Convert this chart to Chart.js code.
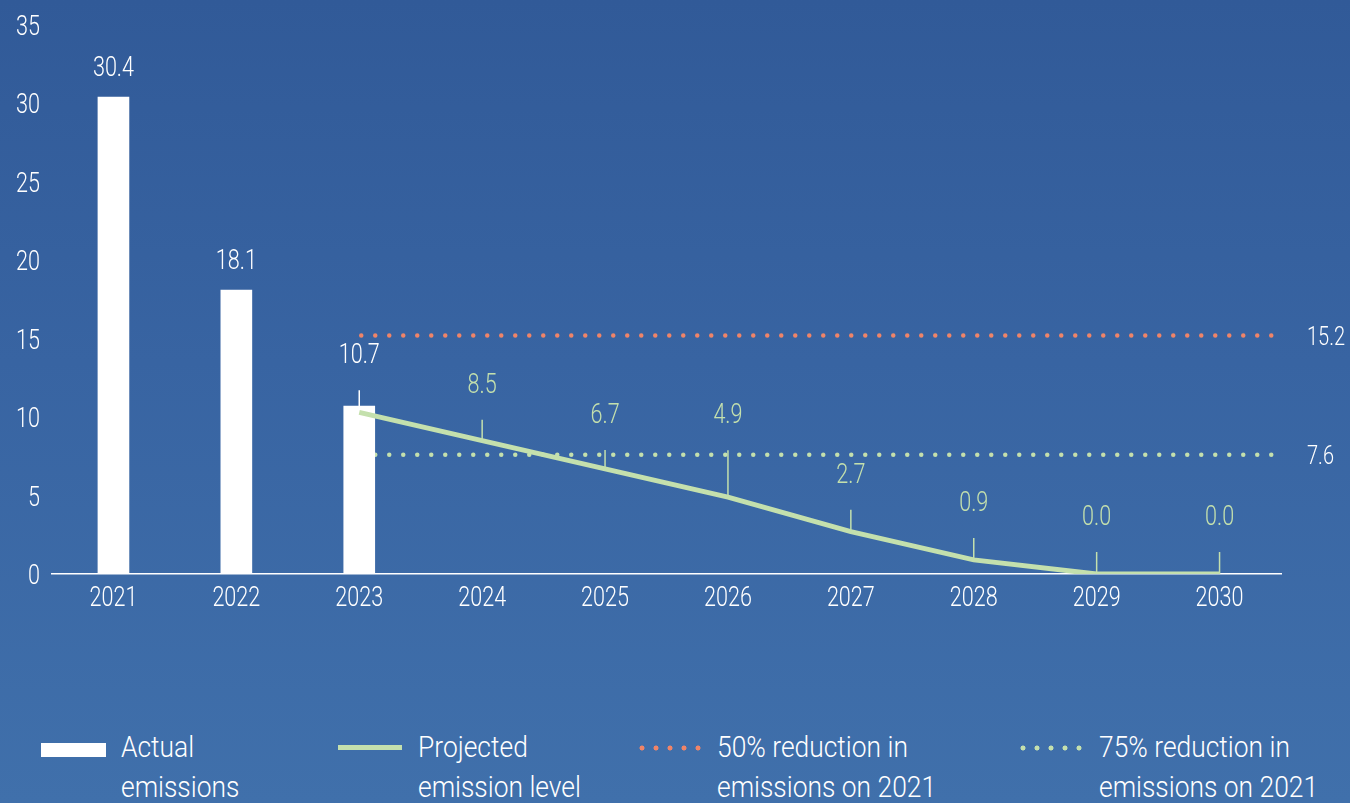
<!DOCTYPE html>
<html>
<head>
<meta charset="utf-8">
<script src="https://cdn.jsdelivr.net/npm/chart.js@4"></script>
<style>
  html, body { margin: 0; padding: 0; }
  body {
    width: 1350px; height: 803px; overflow: hidden; position: relative;
    background: linear-gradient(180deg, #315a98 0%, #3864a2 45%, #4070ab 100%);
    font-family: Roboto, "Liberation Sans", sans-serif;
    font-weight: 300;
    color: #fff;
  }
  #wrap { position: absolute; left: 0; top: 0; width: 1350px; height: 624px; }
  .leg {
    position: absolute; top: 727px; font-size: 30px; line-height: 40px; color: #fff;
    transform: scaleX(0.88); transform-origin: 0 0; white-space: nowrap;
  }
  .sw { position: absolute; }
  .dots { height: 6px; background-image: radial-gradient(circle, var(--c) 2.2px, transparent 2.8px); background-size: 14px 6px; background-repeat: repeat-x; }
</style>
</head>
<body>
<div id="wrap"><canvas id="chart"></canvas></div>

<div class="sw" style="left:41px; top:743px; width:65px; height:14px; background:#fff;"></div>
<div class="leg" style="left:121px;">Actual<br>emissions</div>

<div class="sw" style="left:338px; top:745px; width:64px; height:5px; background:#c4e0ad;"></div>
<div class="leg" style="left:418px;">Projected<br>emission level</div>

<div class="sw dots" style="left:635px; top:745px; width:70px; --c:#ef8468;"></div>
<div class="leg" style="left:717px;">50% reduction in<br>emissions on 2021</div>

<div class="sw dots" style="left:1016px; top:745px; width:70px; --c:#c4e0ad;"></div>
<div class="leg" style="left:1099px;">75% reduction in<br>emissions on 2021</div>

<script>
// Data
const years = ['2021', '2022', '2023', '2024', '2025', '2026', '2027', '2028', '2029', '2030'];
const actual = [30.4, 18.1, 10.7, null, null, null, null, null, null, null];
const projected = [null, null, 10.3, 8.5, 6.7, 4.9, 2.7, 0.9, 0.0, 0.0];
const target50 = 15.2;
const target75 = 7.6;
const yTicks = [0, 5, 10, 15, 20, 25, 30, 35];

const FONT = 'Roboto, "Liberation Sans", sans-serif';
const GREEN = '#c4e0ad';
const ORANGE = '#ef8468';

// leader tick length above each value (0 = no tick)
const leaderLen = [0, 0, 16, 21, 19, 47, 22, 22, 22, 22];

// narrow text helper (the original uses a condensed face)
function narrowText(ctx, text, x, y, align, size, color) {
    ctx.save();
    ctx.translate(x, y);
    ctx.scale(0.8, 1);
    ctx.font = '300 ' + size + 'px ' + FONT;
    ctx.fillStyle = color;
    ctx.textAlign = align;
    ctx.textBaseline = 'alphabetic';
    ctx.fillText(text, 0, 0);
    ctx.restore();
}

// axis labels drawn from the chart's own scales
const axisText = {
    id: 'axisText',
    afterDraw(chart) {
        const ctx = chart.ctx;
        const xs = chart.scales.x;
        const ys = chart.scales.y;
        yTicks.forEach(v => {
            narrowText(ctx, String(v), 40, ys.getPixelForValue(v) + 10, 'right', 27, '#ffffff');
        });
        years.forEach((lab, i) => {
            narrowText(ctx, lab, xs.getPixelForValue(i), chart.chartArea.bottom + 32, 'center', 27, '#ffffff');
        });
    }
};

// value labels with leader ticks
const valueLabels = {
    id: 'valueLabels',
    afterDatasetsDraw(chart) {
        const ctx = chart.ctx;
        const barMeta = chart.getDatasetMeta(1);
        const lineMeta = chart.getDatasetMeta(0);
        years.forEach((y, i) => {
            let el, val, color;
            if (actual[i] !== null) {
                el = barMeta.data[i]; val = actual[i]; color = '#ffffff';
            } else {
                el = lineMeta.data[i]; val = projected[i]; color = GREEN;
            }
            const x = el.x;
            const top = el.y;
            const len = leaderLen[i];
            if (len > 0) {
                ctx.save();
                ctx.strokeStyle = color;
                ctx.lineWidth = 1.5;
                ctx.beginPath();
                ctx.moveTo(x, top);
                ctx.lineTo(x, top - len);
                ctx.stroke();
                ctx.restore();
            }
            const gap = len > 0 ? len + 27 : 21;
            narrowText(ctx, val.toFixed(1), x, top - gap, 'center', 27, color);
        });
    }
};

// dotted reduction targets
const targetLines = {
    id: 'targetLines',
    beforeDatasetsDraw(chart) {
        const ctx = chart.ctx;
        const xs = chart.scales.x;
        const ys = chart.scales.y;
        const x0 = xs.getPixelForValue(2) + 2;
        const x1 = chart.chartArea.right;
        [[target50, ORANGE], [target75, GREEN]].forEach(([v, c]) => {
            const py = ys.getPixelForValue(v);
            ctx.save();
            ctx.lineCap = 'round';
            ctx.lineWidth = 4.5;
            ctx.setLineDash([0, 14]);
            ctx.strokeStyle = c;
            ctx.beginPath();
            ctx.moveTo(x0, py);
            ctx.lineTo(x1, py);
            ctx.stroke();
            ctx.restore();
            narrowText(ctx, v.toFixed(1), x1 + 26, py + 9, 'left', 25, '#ffffff');
        });
    }
};

new Chart(document.getElementById('chart'), {
    data: {
        labels: years,
        datasets: [{
            type: 'line',
            label: 'Projected emission level',
            data: projected,
            borderColor: GREEN,
            borderWidth: 5,
            pointRadius: 0,
            tension: 0,
            order: 0
        }, {
            type: 'bar',
            label: 'Actual emissions',
            data: actual,
            backgroundColor: '#ffffff',
            barThickness: 31,
            grouped: false,
            order: 1
        }]
    },
    options: {
        responsive: true,
        maintainAspectRatio: false,
        animation: false,
        layout: { padding: { top: 25, right: 69, left: 0, bottom: 0 } },
        plugins: {
            legend: { display: false },
            tooltip: { enabled: false }
        },
        scales: {
            x: {
                grid: { display: false, drawTicks: false },
                border: { display: true, color: '#ffffff', width: 1.5 },
                ticks: { display: false },
                afterFit(scale) { scale.height = 50; }
            },
            y: {
                min: 0,
                max: 35,
                afterBuildTicks(scale) { scale.ticks = yTicks.map(v => ({ value: v })); },
                grid: { display: false, drawTicks: false },
                border: { display: false },
                ticks: { display: false },
                afterFit(scale) { scale.width = 52; }
            }
        }
    },
    plugins: [valueLabels, targetLines, axisText]
});
</script>
</body>
</html>
